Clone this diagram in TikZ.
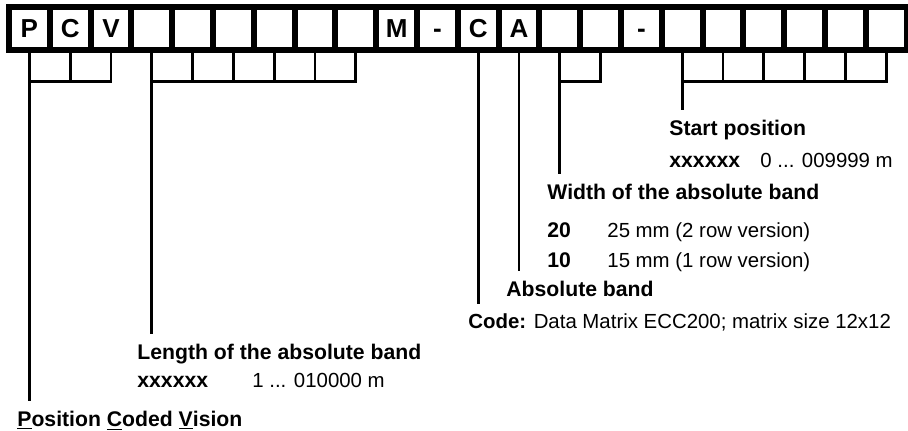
\documentclass[tikz,border=0pt]{standalone}
\usepackage{fontspec}
\setmainfont{Liberation Sans}
\usetikzlibrary{chains,positioning}

\tikzset{
  cell/.style={on chain, draw, line width=3pt, outer sep=0pt, inner sep=0pt,
    minimum width=20.4pt, minimum height=21.35pt,
    execute at begin node=\vphantom{P},
    font=\fontsize{13}{13}\selectfont\bfseries},
  lbl/.style={anchor=base west, inner xsep=0pt, inner ysep=4.5pt,
    font=\fontsize{10.2}{12}\selectfont},
  head/.style={lbl, font=\fontsize{10.6}{12}\selectfont\bfseries},
  lead/.style={line width=1.35pt}
}

\begin{document}
\begin{tikzpicture}[x=0.5pt,y=-0.5pt]
\useasboundingbox (0,0) rectangle (908,430);

% type key boxes
\begin{scope}[shift={(29.4,28.35)},start chain=going right,node distance=0pt]
\foreach \letter [count=\i] in {P,C,V,{},{},{},{},{},{},M,-,C,A,{},{},-,{},{},{},{},{},{}}
  \node [cell] (c\i) {\letter};
\end{scope}

% explanations
\node [head] (start) at (669,135) {Start position};
\node [head] (startx) at (669,167) {xxxxxx};
\node [lbl] (startr) at (760,167) {0 ... 009999 m};
\node [head] (width) at (547,199) {Width of the absolute band};
\node [head] (w20) at (547,237) {20};
\node [lbl] (w20t) at (607,237) {25 mm (2 row version)};
\node [head] (w10) at (547,267) {10};
\node [lbl] (w10t) at (607,267) {15 mm (1 row version)};
\node [head] (absband) at (506,296) {Absolute band};
\node [lbl] (code) at (468,328) {\textbf{Code:} Data Matrix ECC200; matrix size 12x12};
\node [head] (length) at (137,359) {Length of the absolute band};
\node [head] (lenx) at (137,387) {xxxxxx};
\node [lbl] (lenr) at (252,387) {1 ... 010000 m};
\node [head] (pcv) at (17,426) {\underline{P}osition \underline{C}oded \underline{V}ision};

% brackets and leaders
\coordinate (bar) at (0,81.7);
\begin{scope}[lead]
\draw (c1.south) -- (c1 |- pcv.north);
\draw (c1 |- bar) -- (c3 |- bar) -- (c3.south);
\draw (c2.south) -- (c2 |- bar);

\draw (c4.south) -- (c4 |- length.north);
\draw (c4 |- bar) -- (c9 |- bar) -- (c9.south);
\foreach \i in {5,...,8}
  \draw (c\i.south) -- (c\i |- bar);

\draw (c12.south) -- (c12 |- code.north);
\draw (c13.south) -- (c13 |- absband.north);

\draw (c14.south) -- (c14 |- width.north);
\draw (c14 |- bar) -- (c15 |- bar) -- (c15.south);

\draw (c17.south) -- (c17 |- start.north);
\draw (c17 |- bar) -- (c22 |- bar) -- (c22.south);
\foreach \i in {18,...,21}
  \draw (c\i.south) -- (c\i |- bar);
\end{scope}

\end{tikzpicture}
\end{document}
